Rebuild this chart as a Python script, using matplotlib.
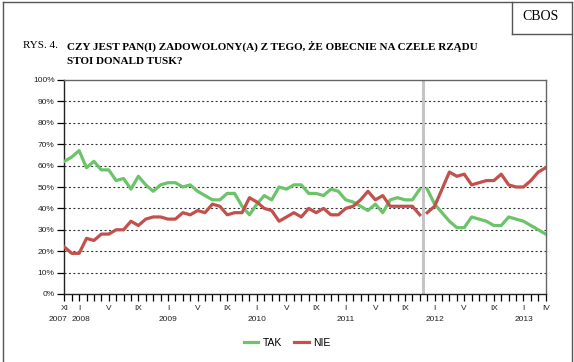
import matplotlib
matplotlib.use("Agg")
import matplotlib.pyplot as plt
import matplotlib.transforms as mtransforms
from matplotlib.lines import Line2D
import numpy as np

# monthly surveys, XI 2007 .. IV 2013 (month index 0..65)
tak_1 = [62, 64, 67, 59, 62, 58, 58, 53, 54, 49, 55, 51, 48, 51, 52, 52, 50,
         51, 48, 46, 44, 44, 47, 47, 41, 37, 42, 46, 44, 50, 49, 51, 51, 47,
         47, 46, 49, 48, 44, 43, 41, 39, 42, 38, 44, 45, 44, 44, 49]
nie_1 = [22, 19, 19, 26, 25, 28, 28, 30, 30, 34, 32, 35, 36, 36, 35, 35, 38,
         37, 39, 38, 42, 41, 37, 38, 38, 45, 43, 40, 39, 34, 36, 38, 36, 40,
         38, 40, 37, 37, 40, 41, 44, 48, 44, 46, 41, 41, 41, 41, 37]
tak_2 = [49, 42, 38, 34, 31, 31, 36, 35, 34, 32, 32, 36, 35, 34, 32, 30, 28]
nie_2 = [38, 41, 49, 57, 55, 56, 51, 52, 53, 53, 56, 51, 50, 50, 53, 57, 59]

tick_months = [0, 2, 6, 10, 14, 18, 22, 26, 30, 34, 38, 42, 46, 50, 54, 58, 62, 65]
tick_labels = ["XI", "I", "V", "IX", "I", "V", "IX", "I", "V", "IX",
               "I", "V", "IX", "I", "V", "IX", "I", "IV"]
year_pos = [-0.9, 2.2, 14, 26, 38, 50, 62]
year_labels = ["2007", "2008", "2009", "2010", "2011", "2012", "2013"]

green = "#6cc46a"
red = "#c2504b"

x1 = np.arange(len(tak_1))
x2 = np.arange(len(tak_1), len(tak_1) + len(tak_2))

fig = plt.figure(figsize=(5.74, 3.62), dpi=100)
ax = fig.add_axes([64.3 / 574, 1 - 294 / 362, (545.7 - 64.3) / 574, (294 - 80) / 362])

for y in range(10, 100, 10):
    ax.axhline(y, color="#333333", lw=0.8, ls=(0, (1.8, 2.2)), zorder=1)
ax.axvline(48.5, color="#c4c4c4", lw=2.2, zorder=2)

ax.plot(x1, tak_1, color=green, lw=2.3, solid_joinstyle="round", zorder=3)
ax.plot(x2, tak_2, color=green, lw=2.3, solid_joinstyle="round", zorder=3)
ax.plot(x1, nie_1, color=red, lw=2.3, solid_joinstyle="round", zorder=3)
ax.plot(x2, nie_2, color=red, lw=2.3, solid_joinstyle="round", zorder=3)

ax.set_xlim(0, 65)
ax.set_ylim(0, 100)
ax.set_yticks(range(0, 101, 10))
ax.set_yticklabels([f"{v}%" for v in range(0, 101, 10)],
                   fontsize=6, family="Liberation Sans", color="#222222")
ax.set_xticks(range(0, 66), minor=True)
ax.set_xticks(tick_months)
ax.set_xticklabels(tick_labels, fontsize=6, family="Liberation Sans", color="#222222")
ax.tick_params(axis="y", direction="out", length=5, width=0.9, pad=2)
ax.tick_params(axis="x", which="both", direction="out", length=5, width=0.9, pad=3)

trans = mtransforms.blended_transform_factory(ax.transData, ax.transAxes)
for xp, lab in zip(year_pos, year_labels):
    ax.text(xp, -0.103, lab, transform=trans, ha="center", va="top",
            fontsize=6, family="Liberation Sans", color="#222222")

ax.spines["left"].set_color("#222222")
ax.spines["bottom"].set_color("#222222")
ax.spines["top"].set_color("#666666")
ax.spines["right"].set_color("#666666")
for s in ax.spines.values():
    s.set_linewidth(1.0)

handles = [Line2D([], [], color=green, lw=2.3), Line2D([], [], color=red, lw=2.3)]
fig.legend(handles, ["TAK", "NIE"], loc="center", bbox_to_anchor=(287 / 574, 1 - 343 / 362),
           ncol=2, frameon=False, handlelength=1.4, handletextpad=0.4,
           columnspacing=1.2, prop={"family": "Liberation Sans", "size": 7.5})

# header
fig.text(23 / 574, 1 - 46 / 362, "RYS. 4.", fontsize=8, family="Liberation Serif",
         va="center", ha="left")
fig.text(67 / 574, 1 - 46 / 362, "CZY JEST PAN(I) ZADOWOLONY(A) Z TEGO, ŻE OBECNIE NA CZELE RZĄDU",
         fontsize=8, family="Liberation Serif", weight="bold", va="center", ha="left")
fig.text(67 / 574, 1 - 62 / 362, "STOI DONALD TUSK?", fontsize=8,
         family="Liberation Serif", weight="bold", va="center", ha="left")
fig.text(541 / 574, 1 - 17 / 362, "CBOS", fontsize=10, family="Liberation Serif",
         va="center", ha="center")

# page frame and CBOS box
fc = "#555555"
tf = fig.transFigure
fig.add_artist(Line2D([3 / 574, 3 / 574], [0, 1 - 2 / 362], color=fc, lw=1, transform=tf))
fig.add_artist(Line2D([3 / 574, 572 / 574], [1 - 2 / 362, 1 - 2 / 362], color=fc, lw=1, transform=tf))
fig.add_artist(Line2D([572 / 574, 572 / 574], [0, 1 - 2 / 362], color=fc, lw=1, transform=tf))
fig.add_artist(Line2D([512 / 574, 512 / 574], [1 - 34 / 362, 1 - 2 / 362], color=fc, lw=1, transform=tf))
fig.add_artist(Line2D([512 / 574, 572 / 574], [1 - 34 / 362, 1 - 34 / 362], color=fc, lw=1, transform=tf))

fig.savefig("out.png", dpi=100)
